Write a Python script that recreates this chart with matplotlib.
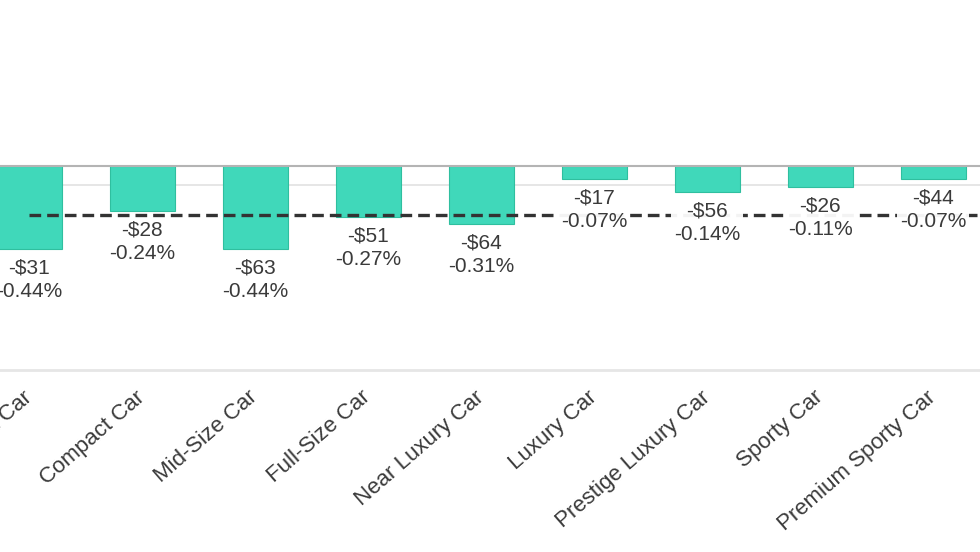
#!/usr/bin/env python3

import matplotlib
matplotlib.use("Agg")
import matplotlib.pyplot as plt
import numpy as np


segments = ["Subcompact Car", "Compact Car", "Mid-Size Car", "Full-Size Car",
            "Near Luxury Car", "Luxury Car", "Prestige Luxury Car",
            "Sporty Car", "Premium Sporty Car"]
dollar_change = [-31, -28, -63, -51, -64, -17, -56, -26, -44]
pct_change = [-0.44, -0.24, -0.44, -0.27, -0.31, -0.07, -0.14, -0.11, -0.07]
avg_pct = -0.26


def main():
	plt.rcParams['font.family'] = ['Liberation Sans', 'DejaVu Sans']

	fig = plt.figure(figsize=(9.8, 5.52), dpi=100)
	ax = fig.add_axes([0, 0.33, 1, 0.67])

	x = np.arange(len(segments))
	ax.bar(x, pct_change, width=0.575, color='#40d8ba', edgecolor='#2fbf9f',
		linewidth=0.8, zorder=2)

	ax.axhline(0, color='#b4b4b4', linewidth=1.5, zorder=3)
	ax.axhline(-0.1, color='#e2e2e2', linewidth=1.2, zorder=1)

	# average line across segments
	xmax = -0.257 + 980 / 113
	ax.hlines(avg_pct, 0, xmax, colors='#333333', linewidth=2.4,
		linestyles=(0, (3.5, 1.8)), zorder=4)

	for xi, d, p in zip(x, dollar_change, pct_change):
		ax.annotate(f"-${abs(d)}\n{p:.2f}%", (xi, p), xytext=(0, -7),
			textcoords='offset points', ha='center', va='top',
			fontsize=15, color='#3a3a3a', linespacing=1.3, zorder=5,
			bbox=dict(boxstyle='square,pad=0.15', fc='white', ec='none', alpha=0.95))

	ax.set_xlim(-0.257, xmax)
	ax.set_ylim(-(370 - 166) / 188, 166 / 188)

	ax.set_xticks(x)
	ax.set_xticklabels(segments, rotation=41, ha='right', va='center',
		rotation_mode='anchor', fontsize=16, color='#3a3a3a')
	ax.tick_params(axis='x', length=0, pad=18)
	ax.set_yticks([])

	for side in ['top', 'left', 'right']:
		ax.spines[side].set_visible(False)
	ax.spines['bottom'].set_color('#e6e6e6')
	ax.spines['bottom'].set_linewidth(2)

	fig.savefig("out.png", dpi=100)


if __name__ == '__main__':
	main()
